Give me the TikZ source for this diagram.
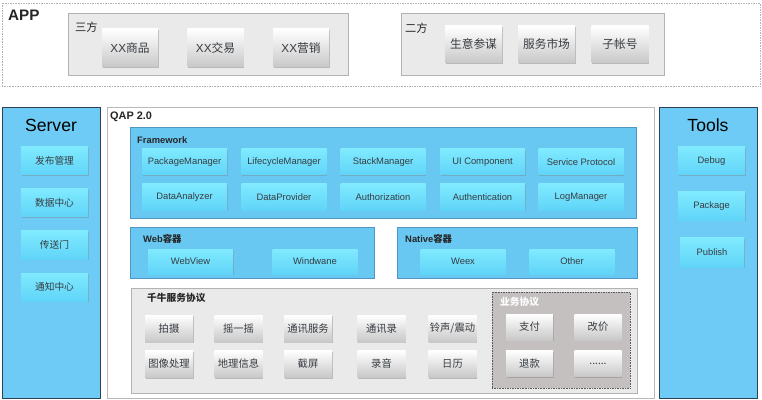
\documentclass[tikz,border=0pt]{standalone}
\usepackage{fontspec}
\setmainfont{Liberation Sans}
\newfontfamily\cjk{Noto Sans CJK SC}
\usepackage{tikz}
\usetikzlibrary{shadows}

\definecolor{panelblue}{RGB}{110,203,245}
\definecolor{panelline}{RGB}{45,65,85}
\definecolor{boxblue}{RGB}{104,200,242}
\definecolor{boxline}{RGB}{80,150,190}
\definecolor{btntop}{RGB}{128,234,255}
\definecolor{btnbot}{RGB}{96,212,248}
\definecolor{boxgray}{RGB}{234,234,234}
\definecolor{bizgray}{RGB}{196,192,192}
\definecolor{btngray}{RGB}{200,200,200}
\definecolor{txtgray}{RGB}{55,60,65}

\begin{document}
\begin{tikzpicture}[x=0.03cm, y=-0.03cm,
    panel/.style={draw=panelline, fill=panelblue, line width=0.6pt, inner sep=0pt},
    frame/.style={draw=gray!55, fill=white, line width=0.6pt, inner sep=0pt},
    bluebox/.style={draw=boxline, fill=boxblue, inner sep=0pt,
        drop shadow={shadow xshift=0.4pt, shadow yshift=-0.6pt, opacity=0.35}},
    graybox/.style={draw=gray!60, fill=boxgray, inner sep=0pt,
        drop shadow={shadow xshift=0.4pt, shadow yshift=-0.6pt, opacity=0.35}},
    bizbox/.style={draw=gray!70!black, densely dotted, fill=bizgray, inner sep=0pt},
    gbtn/.style={top color=white, bottom color=btngray, inner sep=0pt, text=txtgray,
        font=\fontsize{8.8}{10}\selectfont\cjk,
        drop shadow={shadow xshift=0.5pt, shadow yshift=-1pt, opacity=0.45}},
    bbtn/.style={top color=btntop, bottom color=btnbot, inner sep=0pt, text=txtgray,
        font=\fontsize{8}{9}\selectfont,
        drop shadow={shadow xshift=0.5pt, shadow yshift=-1pt, opacity=0.4}},
    appbtn/.style={gbtn, font=\fontsize{10}{11}\selectfont\cjk},
    tag/.style={anchor=west, inner sep=0pt, text=black!85},
    ]
    \useasboundingbox (0,0) rectangle (762,400);

    % APP
    \node[draw=gray!60, densely dotted, fill=white, minimum width=22.74cm, minimum height=2.49cm] (app) at (381,44.5) {};
    \node[tag, font=\fontsize{13}{14}\selectfont\bfseries] (applbl) at (8,15) {APP};
    \node[graybox, minimum width=8.4cm, minimum height=1.86cm] (third) at (208,44) {};
    \node[tag, font=\fontsize{9.6}{10}\selectfont\cjk] (thirdlbl) at (75,27) {三方};
    \node[appbtn, minimum width=1.68cm, minimum height=1.14cm] (a1) at (130,48) {{\rmfamily XX}商品};
    \node[appbtn, minimum width=1.68cm, minimum height=1.14cm] (a2) at (215.5,48) {{\rmfamily XX}交易};
    \node[appbtn, minimum width=1.68cm, minimum height=1.14cm] (a3) at (301,48) {{\rmfamily XX}营销};
    \node[graybox, minimum width=7.89cm, minimum height=1.86cm] (second) at (532.5,44) {};
    \node[tag, font=\fontsize{9.6}{10}\selectfont\cjk] (secondlbl) at (405,28) {二方};
    \node[appbtn, minimum width=1.71cm, minimum height=1.11cm] (a4) at (473.5,44.5) {生意参谋};
    \node[appbtn, minimum width=1.71cm, minimum height=1.11cm] (a5) at (546.5,44.5) {服务市场};
    \node[appbtn, minimum width=1.71cm, minimum height=1.11cm] (a6) at (620,44.5) {子帐号};

    % Server
    \node[panel, minimum width=2.94cm, minimum height=8.73cm] (server) at (51,252.5) {};
    \node[font=\fontsize{15}{16}\selectfont] (serverlbl) at (51,125) {Server};
    \node[bbtn, font=\fontsize{8.3}{9}\selectfont\cjk, minimum width=2.01cm, minimum height=0.84cm] (s1) at (54.5,161) {发布管理};
    \node[bbtn, font=\fontsize{8.3}{9}\selectfont\cjk, minimum width=2.01cm, minimum height=0.84cm] (s2) at (54.5,202.5) {数据中心};
    \node[bbtn, font=\fontsize{8.3}{9}\selectfont\cjk, minimum width=2.01cm, minimum height=0.84cm] (s3) at (54.5,245) {传送门};
    \node[bbtn, font=\fontsize{8.3}{9}\selectfont\cjk, minimum width=2.01cm, minimum height=0.84cm] (s4) at (54.5,287) {通知中心};

    % Tools
    \node[panel, minimum width=2.94cm, minimum height=8.73cm] (tools) at (708,252.5) {};
    \node[font=\fontsize{15}{16}\selectfont] (toolslbl) at (708,125) {Tools};
    \node[bbtn, minimum width=2.01cm, minimum height=0.84cm] (t1) at (711.5,161) {Debug};
    \node[bbtn, minimum width=2.01cm, minimum height=0.84cm] (t2) at (711.5,206) {Package};
    \node[bbtn, minimum width=1.92cm, minimum height=0.87cm] (t3) at (712,252.5) {Publish};

    % QAP 2.0
    \node[frame, minimum width=16.41cm, minimum height=8.73cm] (qap) at (380.5,252.5) {};
    \node[tag, font=\fontsize{9.3}{10}\selectfont\bfseries] (qaplbl) at (110,117) {QAP 2.0};

    % Framework
    \node[bluebox, minimum width=15.18cm, minimum height=2.73cm] (fw) at (383,172.5) {};
    \node[tag, font=\fontsize{8}{9}\selectfont\bfseries] (fwlbl) at (137,140) {Framework};
    \node[bbtn, minimum width=2.55cm, minimum height=0.78cm] (f1) at (184.5,162) {PackageManager};
    \node[bbtn, minimum width=2.55cm, minimum height=0.78cm] (f2) at (284,162) {LifecycleManager};
    \node[bbtn, minimum width=2.55cm, minimum height=0.78cm] (f3) at (383,162) {StackManager};
    \node[bbtn, minimum width=2.55cm, minimum height=0.78cm] (f4) at (482.5,162) {UI Component};
    \node[bbtn, minimum width=2.55cm, minimum height=0.78cm] (f5) at (581,162) {Service Protocol};
    \node[bbtn, minimum width=2.55cm, minimum height=0.78cm] (f6) at (184.5,197) {DataAnalyzer};
    \node[bbtn, minimum width=2.55cm, minimum height=0.78cm] (f7) at (284,197) {DataProvider};
    \node[bbtn, minimum width=2.55cm, minimum height=0.78cm] (f8) at (383,197) {Authorization};
    \node[bbtn, minimum width=2.55cm, minimum height=0.78cm] (f9) at (482.5,197) {Authentication};
    \node[bbtn, minimum width=2.55cm, minimum height=0.78cm] (f10) at (581,197) {LogManager};

    % containers
    \node[bluebox, minimum width=7.32cm, minimum height=1.53cm] (web) at (252,252.5) {};
    \node[tag, font=\fontsize{8}{9}\selectfont\bfseries] (weblbl) at (143,239) {Web{\cjk 容器}};
    \node[bbtn, minimum width=2.55cm, minimum height=0.75cm] (w1) at (190.5,261.5) {WebView};
    \node[bbtn, minimum width=2.55cm, minimum height=0.75cm] (w2) at (315,261.5) {Windwane};
    \node[bluebox, minimum width=7.2cm, minimum height=1.53cm] (native) at (517,252.5) {};
    \node[tag, font=\fontsize{8}{9}\selectfont\bfseries] (nativelbl) at (405,239) {Native{\cjk 容器}};
    \node[bbtn, minimum width=2.55cm, minimum height=0.75cm] (n1) at (463,261.5) {Weex};
    \node[bbtn, minimum width=2.55cm, minimum height=0.75cm] (n2) at (572,261.5) {Other};

    % 千牛服务协议
    \node[graybox, minimum width=15.18cm, minimum height=3.15cm] (qn) at (384,340.5) {};
    \node[tag, font=\fontsize{8.3}{9}\selectfont\cjk\bfseries] (qnlbl) at (147,298) {千牛服务协议};
    \node[gbtn, minimum width=1.44cm, minimum height=0.81cm] (q1) at (169,328.5) {拍摄};
    \node[gbtn, minimum width=1.44cm, minimum height=0.81cm] (q2) at (238.5,328.5) {摇一摇};
    \node[gbtn, minimum width=1.44cm, minimum height=0.81cm] (q3) at (308,328.5) {通讯服务};
    \node[gbtn, minimum width=1.44cm, minimum height=0.81cm] (q4) at (381.5,328.5) {通讯录};
    \node[gbtn, minimum width=1.44cm, minimum height=0.81cm] (q5) at (452.5,328.5) {铃声/震动};
    \node[gbtn, minimum width=1.44cm, minimum height=0.81cm] (q6) at (169,364) {图像处理};
    \node[gbtn, minimum width=1.44cm, minimum height=0.81cm] (q7) at (238.5,364) {地理信息};
    \node[gbtn, minimum width=1.44cm, minimum height=0.81cm] (q8) at (308,364) {截屏};
    \node[gbtn, minimum width=1.44cm, minimum height=0.81cm] (q9) at (381.5,364) {录音};
    \node[gbtn, minimum width=1.44cm, minimum height=0.81cm] (q10) at (452.5,364) {日历};

    % 业务协议
    \node[bizbox, minimum width=4.14cm, minimum height=2.88cm] (biz) at (561,340) {};
    \node[tag, text=white, font=\fontsize{8.3}{9}\selectfont\cjk\bfseries] (bizlbl) at (500,302) {业务协议};
    \node[gbtn, minimum width=1.41cm, minimum height=0.78cm] (b1) at (529.5,327) {支付};
    \node[gbtn, minimum width=1.41cm, minimum height=0.78cm] (b2) at (598,327) {改价};
    \node[gbtn, minimum width=1.41cm, minimum height=0.78cm] (b3) at (529.5,363.5) {退款};
    \node[gbtn, minimum width=1.41cm, minimum height=0.78cm] (b4) at (598,363.5) {......};
\end{tikzpicture}
\end{document}
